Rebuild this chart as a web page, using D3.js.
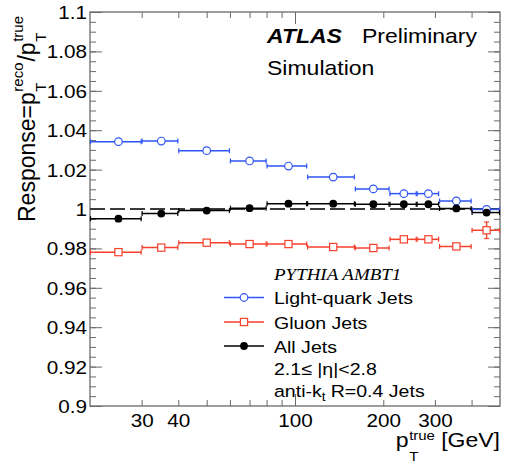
<!DOCTYPE html>
<html>
<head>
<meta charset="utf-8">
<script src="https://cdn.jsdelivr.net/npm/d3@7"></script>
<style>
  body { margin: 0; background: #fff; }
  svg { display: block; }
  text { white-space: pre; }
</style>
</head>
<body>
<svg id="chart" width="508" height="465"></svg>
<script>
// pT bins (GeV) and mean pT of each bin
const binLow  = [20, 30, 40, 60, 80, 110, 160, 210, 260, 310, 400];
const binHigh = [30, 40, 60, 80, 110, 160, 210, 260, 310, 400, 500];
const binMean = [25, 35, 50, 70, 95, 135, 185, 235, 285, 355, 450];

// Jet response per bin
const lightQuark    = [1.0342, 1.0345, 1.0296, 1.0244, 1.0218, 1.0162, 1.0102, 1.0078, 1.0078, 1.0041, 0.9998];
const lightQuarkErr = [0.0004, 0.0004, 0.0004, 0.0004, 0.0004, 0.0005, 0.0005, 0.0006, 0.0006, 0.0007, 0.0009];
const gluon         = [0.9781, 0.9804, 0.9829, 0.9822, 0.9822, 0.9807, 0.9802, 0.9846, 0.9846, 0.9810, 0.9892];
const gluonErr      = [0.0005, 0.0005, 0.0005, 0.0006, 0.0006, 0.0007, 0.0008, 0.0010, 0.0015, 0.0013, 0.0042];
const allJets       = [0.9951, 0.9977, 0.9992, 1.0004, 1.0027, 1.0027, 1.0024, 1.0024, 1.0024, 1.0003, 0.9982];
const allJetsErr    = [0.0003, 0.0003, 0.0003, 0.0003, 0.0003, 0.0004, 0.0004, 0.0005, 0.0005, 0.0006, 0.0008];

// Axis ticks
const xTickLabels = [30, 40, 100, 200, 300];
const xMinorTicks = [30, 40, 50, 60, 70, 80, 90, 200, 300, 400];
const xMajorTicks = [100];
const yTickLabels = [0.9, 0.92, 0.94, 0.96, 0.98, 1.0, 1.02, 1.04, 1.06, 1.08, 1.1];
const yMinorTicks = d3.range(0, 41).map(i => +(0.9 + i * 0.005).toFixed(3));

// ---------------------------------------------------------------
const W = 508, H = 465;
const frame = { l: 90, r: 500, t: 12, b: 406 };
const SX = 1.15;                       // horizontal text stretch
const FONT = "'Liberation Sans', Arial, Helvetica, sans-serif";
const SERIF = "'Liberation Serif', 'Times New Roman', serif";
const AXIS = "#6a6a6a";
const BLUE = "#2f55f5", RED = "#f5402c", BLACK = "#000";

const x = d3.scaleLog().domain([20, 500]).range([frame.l, frame.r]);
const y = d3.scaleLinear().domain([0.9, 1.1]).range([frame.b, frame.t]);

const svg = d3.select("#chart");
svg.append("rect").attr("width", W).attr("height", H).attr("fill", "#fff");

function styleAxis(g) {
  g.select(".domain").remove();
  g.selectAll(".tick line").attr("stroke", AXIS).attr("stroke-width", 1);
}

// y axes (left with labels, right mirrored)
const yFmt = d => d3.format(".2~f")(d);
svg.append("g").attr("transform", `translate(${frame.l},0)`)
  .call(d3.axisLeft(y).tickValues(yMinorTicks).tickSize(-6).tickSizeOuter(0).tickFormat(""))
  .call(styleAxis);
const yLab = svg.append("g").attr("transform", `translate(${frame.l},0)`)
  .call(d3.axisLeft(y).tickValues(yTickLabels).tickSize(-12).tickSizeOuter(0).tickPadding(3).tickFormat(yFmt))
  .call(styleAxis);
yLab.selectAll(".tick text")
  .attr("font-family", FONT).attr("font-size", 18).attr("fill", "#000")
  .attr("x", -3 / SX).attr("dy", "0.36em")
  .attr("transform", `scale(${SX},1)`);

svg.append("g").attr("transform", `translate(${frame.r},0)`)
  .call(d3.axisRight(y).tickValues(yMinorTicks).tickSize(-6).tickSizeOuter(0).tickFormat(""))
  .call(styleAxis);
svg.append("g").attr("transform", `translate(${frame.r},0)`)
  .call(d3.axisRight(y).tickValues(yTickLabels).tickSize(-12).tickSizeOuter(0).tickFormat(""))
  .call(styleAxis);

// x axes (bottom with labels, top mirrored)
[[d3.axisBottom, frame.b], [d3.axisTop, frame.t]].forEach(([ax, pos]) => {
  svg.append("g").attr("transform", `translate(0,${pos})`)
    .call(ax(x).tickValues(xMinorTicks).tickSize(-6).tickSizeOuter(0).tickFormat(""))
    .call(styleAxis);
  svg.append("g").attr("transform", `translate(0,${pos})`)
    .call(ax(x).tickValues(xMajorTicks).tickSize(-12).tickSizeOuter(0).tickFormat(""))
    .call(styleAxis);
});
const xLab = svg.append("g").attr("transform", `translate(0,${frame.b})`)
  .call(d3.axisBottom(x).tickValues(xTickLabels).tickSize(0).tickSizeOuter(0).tickFormat(d3.format("d")))
  .call(styleAxis);
xLab.selectAll(".tick text")
  .attr("font-family", FONT).attr("font-size", 18).attr("fill", "#000")
  .attr("y", 21.5).attr("dy", 0)
  .attr("transform", `scale(${SX},1)`);

// frame
svg.append("rect")
  .attr("x", frame.l).attr("y", frame.t)
  .attr("width", frame.r - frame.l).attr("height", frame.b - frame.t)
  .attr("fill", "none").attr("stroke", AXIS).attr("stroke-width", 1.3);

// reference line at unit response
svg.append("line")
  .attr("x1", x(20)).attr("x2", x(500)).attr("y1", y(1)).attr("y2", y(1))
  .attr("stroke", "#3a3a3a").attr("stroke-width", 2).attr("stroke-dasharray", "15,5");

// marker drawing
function drawMarker(g, kind, cx, cy, color) {
  if (kind === "openCircle") {
    g.append("circle").attr("cx", cx).attr("cy", cy).attr("r", 3.8)
      .attr("fill", "#fff").attr("stroke", color).attr("stroke-width", 1.2);
  } else if (kind === "openSquare") {
    g.append("rect").attr("x", cx - 3.6).attr("y", cy - 3.6).attr("width", 7.2).attr("height", 7.2)
      .attr("fill", "#fff").attr("stroke", color).attr("stroke-width", 1.2);
  } else {
    g.append("circle").attr("cx", cx).attr("cy", cy).attr("r", 3.9).attr("fill", color);
  }
}

function drawSeries(vals, errs, color, kind) {
  const g = svg.append("g").attr("stroke-linecap", "butt");
  const idx = d3.range(vals.length);
  // horizontal bin-width bars
  g.selectAll("line.h").data(idx).join("line").attr("class", "h")
    .attr("x1", i => x(binLow[i])).attr("x2", i => x(binHigh[i]))
    .attr("y1", i => y(vals[i])).attr("y2", i => y(vals[i]))
    .attr("stroke", color).attr("stroke-width", 1.5);
  // end marks on the bin bars
  g.selectAll("line.cl").data(idx).join("line").attr("class", "cl")
    .attr("x1", i => x(binLow[i]) + 0.5).attr("x2", i => x(binLow[i]) + 0.5)
    .attr("y1", i => y(vals[i]) - 2.5).attr("y2", i => y(vals[i]) + 2.5)
    .attr("stroke", color).attr("stroke-width", 1.2);
  g.selectAll("line.cr").data(idx).join("line").attr("class", "cr")
    .attr("x1", i => x(binHigh[i]) - 0.5).attr("x2", i => x(binHigh[i]) - 0.5)
    .attr("y1", i => y(vals[i]) - 2.5).attr("y2", i => y(vals[i]) + 2.5)
    .attr("stroke", color).attr("stroke-width", 1.2);
  // statistical error bars
  g.selectAll("line.v").data(idx).join("line").attr("class", "v")
    .attr("x1", i => x(binMean[i])).attr("x2", i => x(binMean[i]))
    .attr("y1", i => y(vals[i] - errs[i])).attr("y2", i => y(vals[i] + errs[i]))
    .attr("stroke", color).attr("stroke-width", 1.4);
  g.selectAll("line.vc").data(idx.flatMap(i => [[i, -1], [i, 1]])).join("line").attr("class", "vc")
    .attr("x1", d => x(binMean[d[0]]) - 2.5).attr("x2", d => x(binMean[d[0]]) + 2.5)
    .attr("y1", d => y(vals[d[0]] + d[1] * errs[d[0]])).attr("y2", d => y(vals[d[0]] + d[1] * errs[d[0]]))
    .attr("stroke", color).attr("stroke-width", 1.2);
  idx.forEach(i => drawMarker(g, kind, x(binMean[i]), y(vals[i]), color));
}

drawSeries(lightQuark, lightQuarkErr, BLUE, "openCircle");
drawSeries(gluon, gluonErr, RED, "openSquare");
drawSeries(allJets, allJetsErr, BLACK, "filledCircle");

// ---------------------------------------------------------------
// text helpers
function addText(g, str, tx, ty, size, extra = {}) {
  const t = g.append("text").attr("x", tx).attr("y", ty)
    .attr("font-family", extra.family || FONT).attr("font-size", size)
    .attr("fill", "#000").attr("xml:space", "preserve").text(str);
  if (extra.weight) t.attr("font-weight", extra.weight);
  if (extra.style) t.attr("font-style", extra.style);
  return t;
}
const w = t => t.node().getComputedTextLength();

function stretched(tx, ty) {
  return svg.append("g").attr("transform", `translate(${tx},${ty}) scale(${SX},1)`);
}

// ATLAS label
addText(stretched(267, 43), "ATLAS", 0, 0, 20, { weight: "bold", style: "italic" });
addText(stretched(362, 43), "Preliminary", 0, 0, 20);
addText(stretched(267, 75), "Simulation", 0, 0, 20);

// legend
const legend = [
  { label: "Light-quark Jets", color: BLUE, kind: "openCircle", yy: 297.5 },
  { label: "Gluon Jets", color: RED, kind: "openSquare", yy: 322 },
  { label: "All Jets", color: BLACK, kind: "filledCircle", yy: 346 }
];
const lg = svg.append("g");
legend.forEach(d => {
  lg.append("line").attr("x1", 224).attr("x2", 264).attr("y1", d.yy).attr("y2", d.yy)
    .attr("stroke", d.color).attr("stroke-width", 1.5);
  drawMarker(lg, d.kind, 244, d.yy, d.color);
  addText(stretched(274, d.yy + 6.5), d.label, 0, 0, 17);
});
addText(stretched(274, 280), "PYTHIA AMBT1", 0, 0, 16.5, { family: SERIF, style: "italic" });
addText(stretched(274, 375), "2.1\u2264 |\u03b7|<2.8", 0, 0, 17);
{
  const g = stretched(274, 397);
  let u = 0;
  let t = addText(g, "anti-k", u, 0, 17); u += w(t);
  t = addText(g, "t", u, 4, 12); u += w(t) + 4.5;
  addText(g, "R=0.4 Jets", u, 0, 17);
}

// x-axis title
{
  const outer = svg.append("g");
  const g = outer.append("g").attr("transform", `scale(${SX},1)`);
  let u = 0;
  let t = addText(g, "p", u, 0, 20); u += w(t) + 0.5;
  const a = addText(g, "T", u, 14, 13), b = addText(g, "true", u, -7.5, 13);
  u += Math.max(w(a), w(b)) + 5.5;
  t = addText(g, "[GeV]", u, 0, 20); u += w(t);
  outer.attr("transform", `translate(${frame.r - u * SX},447)`);
}

// y-axis title (rotated)
{
  const g = svg.append("g").attr("transform", "translate(35,222) rotate(-90)");
  let u = 0;
  let t = addText(g, "Response=p", u, 0, 23); u += w(t) + 0.5;
  let a = addText(g, "T", u, 11, 15), b = addText(g, "reco", u, -12, 15);
  u += Math.max(w(a), w(b)) + 1;
  t = addText(g, "/p", u, 0, 23); u += w(t) + 0.5;
  addText(g, "T", u, 11, 15); addText(g, "true", u, -12, 15);
}
</script>
</body>
</html>
